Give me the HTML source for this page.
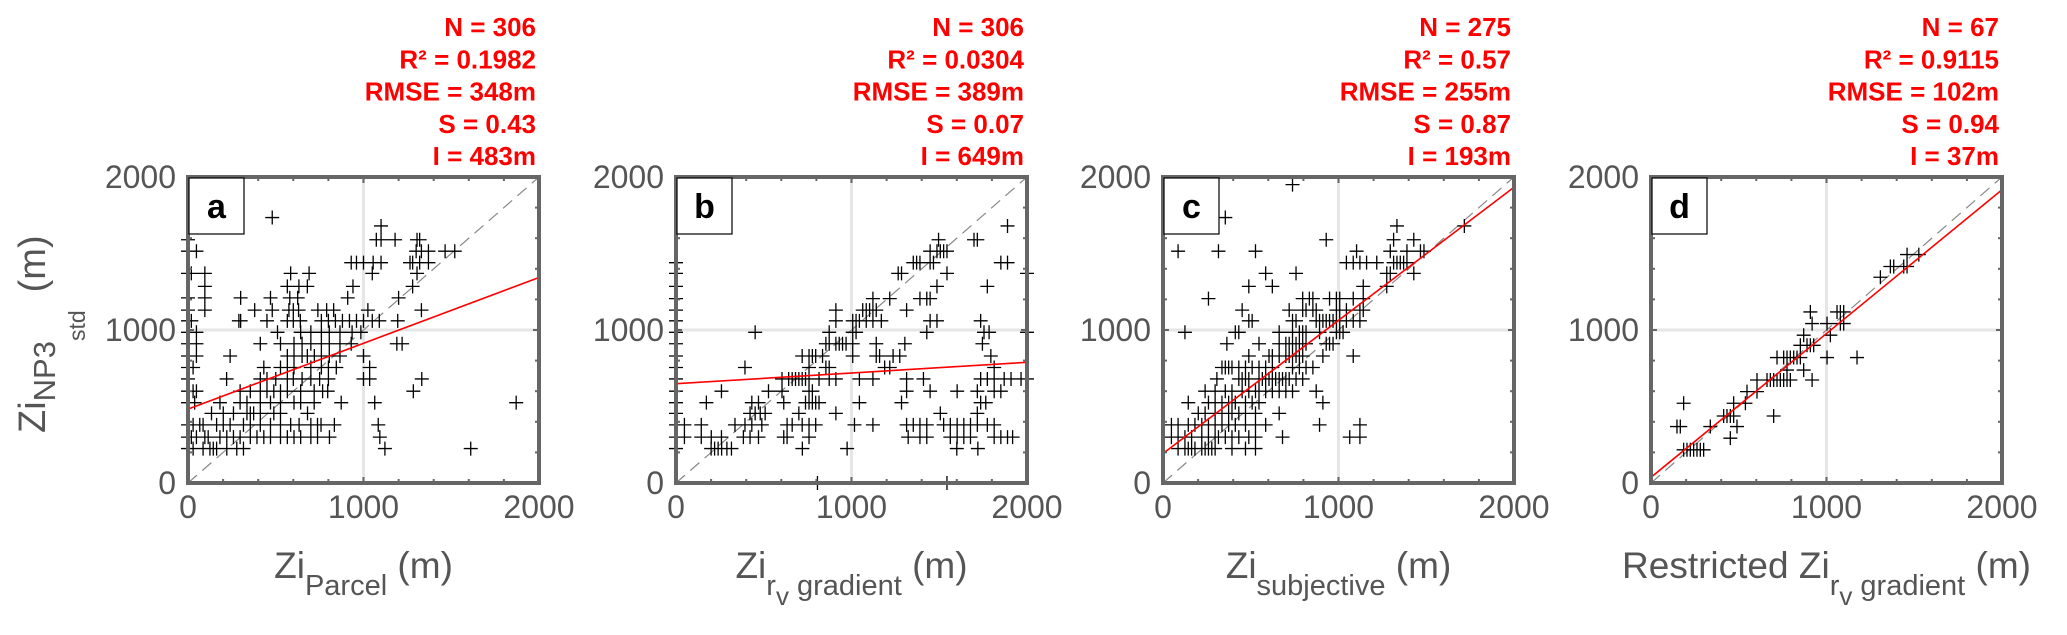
<!DOCTYPE html>
<html><head><meta charset="utf-8"><style>
html,body{margin:0;padding:0;background:#fff;}
svg{display:block;font-family:"Liberation Sans",Arial,sans-serif;}
</style></head><body>
<svg id="fig" width="2067" height="635" viewBox="0 0 2067 635" xmlns="http://www.w3.org/2000/svg"></svg>
<script>
// ---------- data (metres) ----------
const panelLetters = ["a","b","c","d"];
const statN = ["306","306","275","67"];
const statR2 = ["0.1982","0.0304","0.57","0.9115"];
const statRMSE = ["348m","389m","255m","102m"];
const statS = [0.43,0.07,0.87,0.94];
const statI = [483,649,193,37];
const xTicks = [0,1000,2000];
const yTicks = [0,1000,2000];

const aRows = [
 [225,[0,29,86,125,144,163,221,278,316,1122,1611]],
 [300,[0,19,48,96,115,182,221,259,297,355,393,432,470,527,566,604,642,700,738,806,1093]],
 [380,[0,29,67,86,163,201,240,316,355,412,470,527,585,633,700,738,758,834,1084]],
 [455,[134,201,259,336,355,374,412,489,527,681]],
 [525,[0,38,182,297,336,412,470,527,604,642,719,873,1064,1870]],
 [600,[0,29,48,297,355,412,450,489,527,566,642,719,767,796,1284]],
 [680,[0,220,412,450,500,566,600,650,700,750,800,1000,1035,1332]],
 [755,[0,29,432,527,566,604,700,760,800,845,1035]],
 [830,[0,48,240,566,604,650,680,720,760,805,866,1000]],
 [910,[0,48,412,527,604,650,700,760,805,866,930,1190,1220]],
 [985,[0,48,510,642,700,760,805,866,935,985]],
 [1060,[0,19,290,300,450,566,600,640,760,800,840,880,920,960,1000,1050,1090,1195]],
 [1130,[0,96,380,480,575,600,630,740,790,830,1025,1330]],
 [1210,[0,96,300,470,580,625,910,1200]],
 [1285,[96,566,632,680,940,1280]],
 [1370,[0,19,96,585,690,1050,1305]],
 [1440,[930,960,1000,1055,1100,1265,1280,1320,1370]],
 [1515,[0,48,1300,1330,1370,1465,1520]],
 [1590,[0,1073,1100,1180,1305,1320]],
 [1680,[1100]],
 [1735,[480]]
];
const bRows = [
 [0,[806,1544]],
 [225,[0,0,200,220,240,260,290,316,720,975,1600,1720]],
 [300,[0,0,48,144,201,259,384,422,470,614,633,758,1323,1390,1429,1563,1602,1640,1678,1813,1851,1889,1918]],
 [380,[0,48,144,336,393,432,489,633,662,719,758,796,1017,1122,1314,1352,1390,1429,1525,1563,1602,1640,1678,1717,1774,1813]],
 [455,[0,422,451,480,508,700,911,1506,1717]],
 [525,[0,173,432,470,614,738,758,777,796,815,1045,1285,1736,1765]],
 [600,[0,259,527,604,758,777,1314,1448,1602,1717,1813,1851]],
 [680,[0,604,642,662,681,700,719,738,758,815,873,911,1045,1122,1314,1410,1736,1774,1813,1870,1909,1966,2000]],
 [755,[0,393,758,854,873,1189,1218,1813]],
 [830,[0,719,758,777,796,835,1007,1141,1160,1237,1275,1794]],
 [910,[0,854,873,911,930,949,969,1007,1141,1304,1746]],
 [985,[0,451,873,1007,1026,1429,1755,1784,2000]],
 [1060,[0,911,1007,1026,1045,1084,1122,1170,1448,1487,1736]],
 [1130,[0,911,1064,1084,1103,1122,1141,1314]],
 [1205,[0,1122,1218,1390,1429,1448]],
 [1285,[0,1487,1774]],
 [1370,[0,1266,1285,1544,2000]],
 [1440,[0,1352,1371,1390,1448,1467,1851,1889]],
 [1515,[1448,1487,1506,1525,1544]],
 [1590,[1496,1698,1717]],
 [1680,[1889]]
];
const cRows = [
 [225,[86,125,144,163,182,221,240,259,278,297,393,470,527]],
 [300,[48,86,125,163,221,259,297,316,355,393,432,489,527,681,1064,1122]],
 [380,[48,86,144,182,221,259,297,336,374,412,470,527,585,892,1122]],
 [455,[201,240,297,336,374,393,432,470,527,662]],
 [525,[144,259,297,336,374,393,412,470,508,547,911]],
 [600,[240,297,355,393,451,489,527,547,585,623,662,700,738,873]],
 [680,[307,432,451,470,489,547,566,585,604,623,642,662,681,700,719,758,796]],
 [755,[336,355,374,393,432,470,508,547,585,623,738,777,815,854]],
 [830,[489,604,623,662,700,719,738,758,777,796,911,1084]],
 [910,[364,547,662,700,719,738,758,777,796,815,930,949,969]],
 [985,[125,412,432,662,738,777,796,815,892,988,1007,1026]],
 [1060,[489,508,738,758,873,892,911,930,949,969,988,1007,1045,1084,1122]],
 [1130,[451,719,796,815,854,873,988,1007,1045,1122,1141]],
 [1205,[259,796,834,854,949,988,1007,1084,1141]],
 [1285,[489,623,1141,1275]],
 [1370,[585,758,1275,1295,1429]],
 [1440,[1045,1084,1122,1160,1218,1314,1333,1352,1371,1390]],
 [1515,[86,316,527,1103,1295,1390,1467,1487]],
 [1590,[930,1314,1429]],
 [1680,[1333,1717]],
 [1735,[355]],
 [1950,[738]]
];
const dRows = [
 [217,[186,205,224,243,262,281,300]],
 [293,[452]],
 [369,[148,167,338,490]],
 [438,[414,433,452,471,699]],
 [521,[186,471,538]],
 [597,[547,604]],
 [673,[604,661,680,699,718,737,756,775,794,918]],
 [738,[775,870]],
 [820,[718,756,775,794,813,832,851,1003,1174]],
 [900,[851,889,908,927]],
 [966,[870,1022]],
 [1042,[918,1003,1079,1098]],
 [1118,[908,1060,1079,1098]],
 [1345,[1307]],
 [1415,[1364,1383,1440,1459]],
 [1493,[1459,1526]]
];
const allRows = [aRows,bRows,cRows,dRows];

// ---------- layout ----------
const NS="http://www.w3.org/2000/svg";
const svg=document.getElementById('fig');
const panelLeft=[188,676,1163,1651];
const PW=351, PT=177, PB=483, PH=PB-PT;
function mk(tag,attrs,parent){const e=document.createElementNS(NS,tag);for(const k in attrs)e.setAttribute(k,attrs[k]);(parent||svg).appendChild(e);return e;}

const xLabels=[
 [["Zi",""],["Parcel","sub"],[" (m)",""]],
 [["Zi",""],["r","sub"],["v","subsub"],[" gradient","sub"],[" (m)",""]],
 [["Zi",""],["subjective","sub"],[" (m)",""]],
 [["Restricted Zi",""],["r","sub"],["v","subsub"],[" gradient","sub"],[" (m)",""]]
];

for(let p=0;p<4;p++){
  const L=panelLeft[p];
  const sx=v=>L+v/2000*PW;
  const sy=v=>PB-v/2000*PH;
  const g=mk('g',{});
  
  
  mk('rect',{x:L,y:PT,width:PW,height:PH,fill:'#fff'},g);
  const grid=mk('g',{stroke:'#e6e6e6','stroke-width':3},g);
  
  
  mk('line',{x1:sx(1000),x2:sx(1000),y1:PT,y2:PB},grid);
  mk('line',{x1:L,x2:L+PW,y1:sy(1000),y2:sy(1000)},grid);
  const one=mk('line',{x1:sx(0),y1:sy(0),x2:sx(2000),y2:sy(2000),stroke:'#888','stroke-width':1.2,'stroke-dasharray':'12,7'},g);
  
  
  const pts=mk('g',{stroke:'#000','stroke-width':1.3,fill:'none'},g);
  
  
  let d='';
  for(const [yv,xs] of allRows[p]){
    for(const xv of xs){
      const cx=sx(xv), cy=sy(yv);
      d+=`M${cx-7},${cy}H${cx+7}M${cx},${cy-7}V${cy+7}`;
    }
  }
  mk('path',{d:d},pts);
  const fit=mk('line',{x1:sx(0),y1:sy(statI[p]),x2:sx(2000),y2:sy(statI[p]+statS[p]*2000),stroke:'#ff0000','stroke-width':1.6},g);
  
  
  const tk=mk('g',{stroke:'#666','stroke-width':2},g);
  
  
  for(let v=200;v<2000;v+=200){
    const len=(v===1000)?6:4;
    mk('line',{x1:sx(v),x2:sx(v),y1:PB,y2:PB-len},tk);
    mk('line',{x1:sx(v),x2:sx(v),y1:PT,y2:PT+len},tk);
    mk('line',{x1:L,x2:L+len,y1:sy(v),y2:sy(v)},tk);
    mk('line',{x1:L+PW,x2:L+PW-len,y1:sy(v),y2:sy(v)},tk);
  }
  const fr=mk('rect',{x:L,y:PT,width:PW,height:PH,fill:'none',stroke:'#666','stroke-width':4},g);
  
  
  const lb=mk('g',{},g);
  
  
  mk('rect',{x:L+1,y:PT+1,width:55,height:56,fill:'#fff',stroke:'#000','stroke-width':1.2},lb);
  const lt=mk('text',{x:L+28.5,y:PT+41,'text-anchor':'middle','font-size':34,'font-weight':'bold',fill:'#000'},lb);
  lt.textContent=panelLetters[p];
  for(const t of xTicks){
    const e=mk('text',{x:sx(t),y:518,'text-anchor':'middle','font-size':32,fill:'#555'},g);
    
    
    e.textContent=t;
  }
  for(const t of yTicks){
    const e=mk('text',{x:L-12,y:sy(t)+11,'text-anchor':'end','font-size':32,fill:'#555'},g);
    
    
    e.textContent=t;
  }
  const st=mk('g',{fill:'#ff0000','font-size':26,'font-weight':'bold','text-anchor':'end'},g);
  
  
  const lines=['N = '+statN[p],'R\u00B2 = '+statR2[p],'RMSE = '+statRMSE[p],'S = '+statS[p].toFixed(2),'I = '+statI[p]+'m'];
  lines.forEach((s,i)=>{const e=mk('text',{x:L+PW-3,y:36+i*32.3},st);e.textContent=s;});
  const xl=mk('text',{x:L+PW/2,y:578,'text-anchor':'middle','font-size':37,fill:'#555'},g);
  
  
  let shift=0;
  for(const [s,kind] of xLabels[p]){
    const ts=mk('tspan',{},xl);
    let target = kind==='sub'?17:(kind==='subsub'?27:0);
    const dy=target-shift; shift=target;
    if(dy!==0) ts.setAttribute('dy',dy);
    ts.setAttribute('font-size',kind===''?37:(kind==='subsub'?26:29));
    ts.textContent=s;
  }
}
// y axis title
const yl=mk('text',{transform:'translate(45,433) rotate(-90)','font-size':38,fill:'#555'});


yl.innerHTML='<tspan>Zi</tspan><tspan dy="10" font-size="31">NP3</tspan><tspan dy="30" font-size="23">std</tspan><tspan dy="-40" dx="18">(m)</tspan>';
</script>
</body></html>
